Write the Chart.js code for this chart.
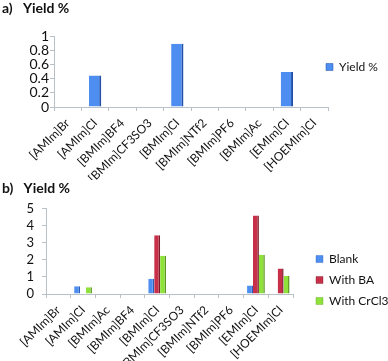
<!DOCTYPE html>
<html>
<head>
<meta charset="utf-8">
<script src="https://cdn.jsdelivr.net/npm/chart.js@4.4.1/dist/chart.umd.min.js"></script>
<style>
  body { margin: 0; background: #fff; }
  .box { position: absolute; left: 0; width: 388px; }
  #wrap_a { top: 0; height: 180px; }
  #wrap_b { top: 180px; height: 181px; }
</style>
</head>
<body>
<div class="box" id="wrap_a"><canvas id="chart_a"></canvas></div>
<div class="box" id="wrap_b"><canvas id="chart_b"></canvas></div>
<script>
// panel a
const labels_a = ["[AMIm]Br", "[AMIm]Cl", "[BMIm]BF4", "[BMIm]CF3SO3", "[BMIm]Cl",
  "[BMIm]NTf2", "[BMIm]PF6", "[BMIm]Ac", "[EMIm]Cl", "[HOEMIm]Cl"];
const yield_a = [0, 0.45, 0, 0, 0.9, 0, 0, 0, 0.5, 0];

// panel b
const labels_b = ["[AMIm]Br", "[AMIm]Cl", "[BMIm]Ac", "[BMIm]BF4", "[BMIm]Cl",
  "[BMIm]CF3SO3", "[BMIm]NTf2", "[BMIm]PF6", "[EMIm]Cl", "[HOEMIm]Cl"];
const blank_b = [0, 0.45, 0, 0, 0.9, 0, 0, 0, 0.5, 0];
const withBA_b = [0, 0, 0, 0, 3.45, 0, 0, 0, 4.6, 1.5];
const withCrCl3_b = [0, 0.4, 0, 0, 2.25, 0, 0, 0, 2.3, 1.05];

Chart.defaults.font.family = "Lato";
Chart.defaults.color = "#111";

const axisGrey = "#b8c0c8";

// fixes the legend width and moves its items to a given x / y
const legendPlace = {
  id: "legendPlace",
  beforeLayout(chart, args, opts) {
    const lg = chart.legend;
    if (!lg || lg._placed) return;
    const fit = lg.fit;
    lg.fit = function () {
      fit.call(this);
      this.width = opts.width;
    };
    lg._placed = true;
  },
  afterLayout(chart, args, opts) {
    const lg = chart.legend;
    const pad = lg.options.labels.padding;
    const w = lg.right - lg.left;
    const h = lg.bottom - lg.top;
    lg.left = opts.boxX - pad;
    lg.right = lg.left + w;
    lg.top = opts.topY - pad;
    lg.bottom = lg.top + h;
  },
};

function xScale(h) {
  return {
    offset: true,
    afterFit: s => { s.height = h; },
    grid: { drawOnChartArea: false, tickLength: 4, color: axisGrey, offset: true },
    border: { color: axisGrey },
    ticks: { autoSkip: false, maxRotation: 45, minRotation: 45, font: { size: 12 }, padding: 5 },
  };
}

const ct_a = document.getElementById("chart_a");
new Chart(ct_a, {
  type: "bar",
  data: {
    labels: labels_a,
    datasets: [
      {
        label: "Yield %",
        data: yield_a,
        backgroundColor: "#4d8ef0",
        borderColor: "#1f4fa8",
        borderWidth: { right: 2, top: 0, left: 0, bottom: 0 },
        borderSkipped: false,
        barPercentage: 0.9,
        categoryPercentage: 0.5,
      },
    ],
  },
  plugins: [legendPlace],
  options: {
    responsive: true,
    maintainAspectRatio: false,
    animation: false,
    layout: { padding: { left: 2, right: 0, top: 0, bottom: 0 } },
    plugins: {
      legendPlace: { width: 60, boxX: 326, topY: 61 },
      title: {
        display: true,
        text: "a)   Yield %",
        align: "start",
        font: { size: 14, weight: "bold" },
        padding: { top: 0, bottom: 20 },
      },
      legend: {
        position: "right",
        align: "start",
        labels: { boxWidth: 7, boxHeight: 7, font: { size: 12 }, padding: 8 },
      },
      tooltip: { enabled: false },
    },
    scales: {
      x: xScale(73),
      y: {
        min: 0,
        max: 1,
        afterFit: s => { s.width = 52; },
        ticks: {
          stepSize: 0.2,
          autoSkip: false,
          font: { size: 14 },
          padding: 1,
          callback: v => String(Math.round(v * 10) / 10),
        },
        grid: { drawOnChartArea: false, tickLength: 4, color: axisGrey },
        border: { color: axisGrey },
      },
    },
  },
});

const ct_b = document.getElementById("chart_b");
new Chart(ct_b, {
  type: "bar",
  data: {
    labels: labels_b,
    datasets: [
      { label: "Blank", data: blank_b, backgroundColor: "#4d8ef0", borderColor: "#2a5cb8" },
      { label: "With BA", data: withBA_b, backgroundColor: "#c8304a", borderColor: "#7a1a2a" },
      { label: "With CrCl3", data: withCrCl3_b, backgroundColor: "#8ee23a", borderColor: "#5a9a1f" },
    ].map(d => Object.assign(d, {
      borderWidth: { right: 1.5, top: 0, left: 0, bottom: 0 },
      borderSkipped: false,
      barPercentage: 1,
      categoryPercentage: 0.72,
    })),
  },
  plugins: [legendPlace],
  options: {
    responsive: true,
    maintainAspectRatio: false,
    animation: false,
    layout: { padding: { left: 2, right: 0, top: 0, bottom: 0 } },
    plugins: {
      legendPlace: { width: 95, boxX: 316, topY: 73 },
      title: {
        display: true,
        text: "b)   Yield %",
        align: "start",
        font: { size: 14, weight: "bold" },
        padding: { top: 0, bottom: 12 },
      },
      legend: {
        position: "right",
        align: "start",
        labels: { boxWidth: 7, boxHeight: 7, font: { size: 12 }, padding: 9 },
      },
      tooltip: { enabled: false },
    },
    scales: {
      x: xScale(67),
      y: {
        min: 0,
        max: 5,
        afterFit: s => { s.width = 44; },
        ticks: { stepSize: 1, autoSkip: false, font: { size: 13 }, padding: 8 },
        grid: { drawOnChartArea: false, tickLength: 4, color: axisGrey },
        border: { color: axisGrey },
      },
    },
  },
});
</script>
</body>
</html>
